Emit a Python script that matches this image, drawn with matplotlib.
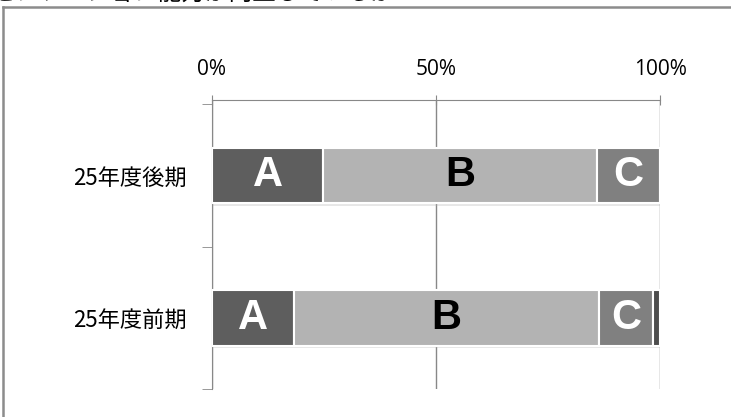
import matplotlib.pyplot as plt
import matplotlib.patheffects as pe
from matplotlib.lines import Line2D

plt.rcParams['font.family'] = ['Noto Sans CJK JP', 'DejaVu Sans']

title = "プレゼンテーション能力が向上しているか"
periods = ["25年度後期", "25年度前期"]
labels = ["A", "B", "C", "D"]
shares = {
    "A": [24.8, 18.3],
    "B": [61.2, 68.1],
    "C": [14.0, 12.0],
    "D": [0.0, 1.6],
}
colors = {"A": "#5e5e5e", "B": "#b3b3b3", "C": "#808080", "D": "#4d4d4d"}
text_colors = {"A": "white", "B": "black", "C": "white", "D": "white"}
xticks = [0, 50, 100]
xtick_labels = ["0%", "50%", "100%"]

W, H = 731, 417
fig = plt.figure(figsize=(W / 100, H / 100), dpi=100)
ax = fig.add_axes([212 / W, 28 / H, (660 - 212) / W, (389 - 100) / H])

# outer chart frame: only its top and left edges are inside the picture
frame_top = (H - 7) / H
fig.lines.append(Line2D([3 / W, 1.1], [frame_top, frame_top], transform=fig.transFigure,
                        color="#8c8c8c", linewidth=1.8))
fig.lines.append(Line2D([3 / W, 3 / W], [-0.1, frame_top], transform=fig.transFigure,
                        color="#8c8c8c", linewidth=1.8))
fig.text(395 / W, 1 + 6.5 / H, title, ha="right", va="center", fontsize=17)

ypos = list(range(len(periods)))
left = [0.0] * len(periods)
shadow = [pe.SimplePatchShadow(offset=(0.5, -2), shadow_rgbFace="#b0b0b0", alpha=0.3),
          pe.Normal()]
for lab in labels:
    vals = shares[lab]
    bars = ax.barh(ypos, vals, left=left, height=0.39, color=colors[lab],
                   edgecolor="white", linewidth=1.5, zorder=3)
    for b in bars:
        b.set_path_effects(shadow)
    for i, v in enumerate(vals):
        if v > 5:
            ax.text(left[i] + v / 2, ypos[i], lab, ha="center", va="center",
                    fontsize=30, fontweight="bold", color=text_colors[lab],
                    family="Liberation Sans", zorder=4)
    left = [l + v for l, v in zip(left, vals)]

ax.set_xlim(0, 100)
ax.set_ylim(1.5, -0.53)
ax.xaxis.tick_top()
ax.set_xticks(xticks)
ax.set_xticklabels(xtick_labels, family="Open Sans", fontsize=15)
ax.tick_params(axis="x", direction="inout", length=7, color="#888888", pad=11)
ax.set_yticks(ypos)
ax.set_yticklabels(periods, fontsize=16)
ax.tick_params(axis="y", length=0, pad=18)
ax.set_yticks([-0.5, 0.5, 1.5], minor=True)
ax.tick_params(axis="y", which="minor", length=7, color="#888888")
ax.grid(axis="x", color="#888888", linewidth=1, zorder=0)
for s in ["right", "bottom"]:
    ax.spines[s].set_visible(False)
for s in ["top", "left"]:
    ax.spines[s].set_color("#888888")

fig.savefig("out.png", dpi=100)
